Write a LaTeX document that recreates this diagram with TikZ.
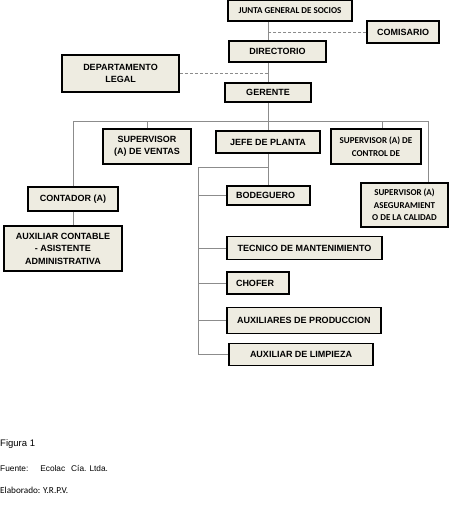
\documentclass[tikz,border=0pt]{standalone}
\usepackage{fontspec}
\setmainfont{Liberation Sans}
\newfontfamily\calibri{Carlito}
\usepackage{xcolor}
\definecolor{boxfill}{HTML}{EEECE1}

\begin{document}
\begin{tikzpicture}[x=1pt, y=-1pt,
  unit/.style={rectangle, draw=black, line width=1.5pt, fill=boxfill, align=center, inner sep=1pt,
    font=\fontsize{9}{12.5}\selectfont\bfseries},
  cunit/.style={unit, font=\fontsize{9}{12.5}\selectfont\calibri\bfseries},
  lunit/.style={unit, align=left, inner xsep=9pt},
  link/.style={line width=0.9pt, draw=black!45},
  dlink/.style={link, dashed, dash pattern=on 3pt off 2pt}
]
\useasboundingbox (0,0) rectangle (450,522);
\node[cunit, minimum width=124pt, minimum height=20.5pt] (junta) at (290,10.8) {JUNTA GENERAL DE SOCIOS};
\node[unit, minimum width=72pt, minimum height=22pt] (comisario) at (403,32) {COMISARIO};
\node[unit, minimum width=97pt, minimum height=21pt] (directorio) at (277.5,51.5) {DIRECTORIO};
\node[unit, minimum width=117pt, minimum height=37pt] (legal) at (120.5,73.5) {DEPARTAMENTO\\LEGAL};
\node[unit, minimum width=86pt, minimum height=19pt] (gerente) at (268,92.5) {GERENTE};
\node[unit, minimum width=88pt, minimum height=35pt] (ventas) at (147,146.5) {SUPERVISOR\\(A) DE VENTAS};
\node[unit, minimum width=104pt, minimum height=22pt] (jefe) at (268,142) {JEFE DE PLANTA};
\node[cunit, minimum width=90pt, minimum height=35pt] (control) at (376,146.5) {SUPERVISOR (A) DE\\CONTROL DE};
\node[cunit, minimum width=87pt, minimum height=44pt] (asegur) at (404.5,205) {SUPERVISOR (A)\\ASEGURAMIENT\\O DE LA CALIDAD};
\node[unit, minimum width=90pt, minimum height=24pt] (contador) at (73,199) {CONTADOR (A)};
\node[unit, minimum width=118pt, minimum height=45pt] (auxcont) at (63,248.5) {AUXILIAR CONTABLE\\- ASISTENTE\\ADMINISTRATIVA};
\node[lunit, text width=65pt, minimum height=19pt] (bodeguero) at (268.5,195.5) {BODEGUERO};
\node[unit, minimum width=155pt, minimum height=23pt] (tecnico) at (304.5,248) {TECNICO DE MANTENIMIENTO};
\node[lunit, text width=44pt, minimum height=22pt] (chofer) at (258,283) {CHOFER};
\node[unit, minimum width=154pt, minimum height=26pt] (auxprod) at (304,320.5) {AUXILIARES DE PRODUCCION};
\node[unit, minimum width=144pt, minimum height=22pt] (limpieza) at (301,354.5) {AUXILIAR DE LIMPIEZA};
\coordinate (busR) at (428,121);
\coordinate (ctl) at (382,121);
\coordinate (fork) at (198,167);
\node[anchor=west, inner sep=0pt, font=\fontsize{9.5}{11}\selectfont] (fig) at (0,444) {Figura 1};
\node[anchor=west, inner sep=0pt, font=\fontsize{8.3}{10}\selectfont] (fuente) at (0,468) {Fuente:\hspace{12pt}Ecolac\hspace{6pt}Cía. Ltda.};
\node[anchor=west, inner sep=0pt, font=\fontsize{9.2}{11}\selectfont\calibri] (elab) at (0,490) {Elaborado: Y.R.P.V.};
\begin{scope}[on background layer/.try]
\draw[link] (junta.south -| gerente) -- (directorio.north -| gerente);
\draw[link] (directorio.south -| gerente) -- (gerente.north);
\draw[dlink] (comisario.west) -- (comisario.west -| gerente);
\draw[dlink] (legal.east) -- (legal.east -| gerente);
\draw[link] (gerente.south) -- (jefe.north);
\draw[link] (contador.north) |- (busR) -- (busR |- asegur.north);
\draw[link] (ventas.north) -- (ventas.north |- busR);
\draw[link] (ctl) -- (ctl |- control.north);
\draw[link] (contador.south) -- (contador.south |- auxcont.north);
\draw[link] (jefe.south) -- (jefe.south |- bodeguero.north);
\draw[link] (jefe.south |- fork) -- (fork) -- (fork |- limpieza.west);
\draw[link] (fork |- bodeguero.west) -- (bodeguero.west);
\draw[link] (fork |- tecnico.west) -- (tecnico.west);
\draw[link] (fork |- chofer.west) -- (chofer.west);
\draw[link] (fork |- auxprod.west) -- (auxprod.west);
\draw[link] (fork |- limpieza.west) -- (limpieza.west);
\end{scope}
\end{tikzpicture}
\end{document}
